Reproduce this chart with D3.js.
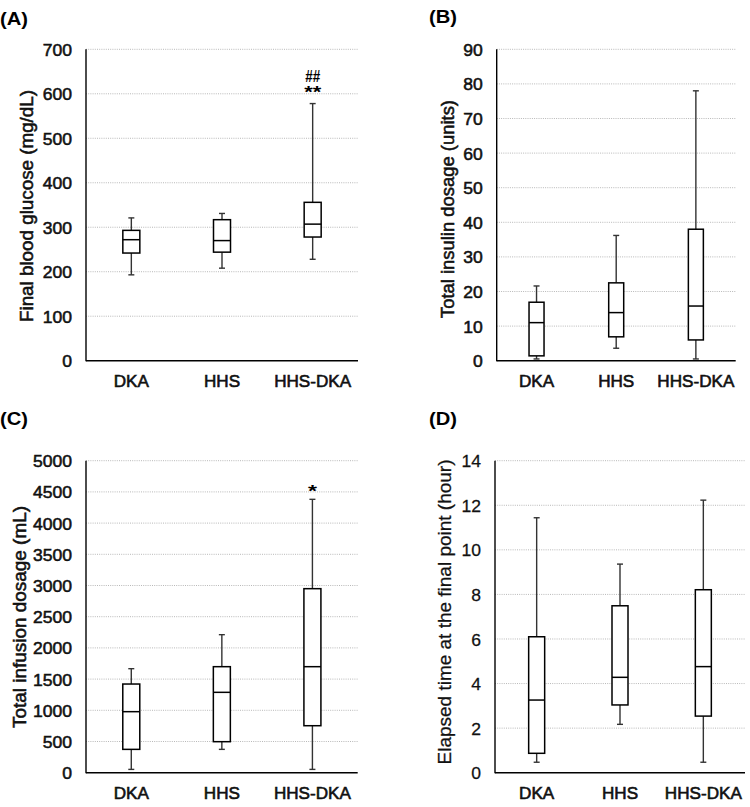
<!DOCTYPE html>
<html><head><meta charset="utf-8">
<script src="https://cdn.jsdelivr.net/npm/d3@7"></script>
<style>
body{margin:0;background:#fff;}
text{font-family:"Liberation Sans",Arial,sans-serif;}
</style></head>
<body>
<svg id="c" width="750" height="807"></svg>
<script>
const categories = ["DKA","HHS","HHS-DKA"];
// [low whisker, Q1, median, Q3, high whisker]
const glucose  = [[193,242,272,293,321],[208,244,270,317,331],[228,278,307,356,578]];
const insulin  = [[0.5,1.4,11.0,16.9,21.6],[3.6,6.9,13.9,22.5,36.2],[0.5,6.0,15.8,38.0,78.0]];
const infusion = [[53,374,978,1421,1667],[374,497,1288,1699,2212],[53,753,1699,2949,4381]];
const elapsed  = [[0.47,0.87,3.26,6.10,11.44],[2.17,3.04,4.28,7.49,9.36],[0.47,2.54,4.76,8.21,12.23]];
const ticksA = [0,100,200,300,400,500,600,700];
const ticksB = [0,10,20,30,40,50,60,70,80,90];
const ticksC = [0,500,1000,1500,2000,2500,3000,3500,4000,4500,5000];
const ticksD = [0,2,4,6,8,10,12,14];

const svg = d3.select("#c");
const SX = 1.02;

function stretch(sel){
  sel.each(function(){
    const t = d3.select(this);
    const x = +t.attr("x") || 0;
    t.attr("transform", `translate(${x},0) scale(${SX},1) translate(${-x},0)`);
  });
}

function panel(o){
  const g = svg.append("g");
  const x = d3.scaleBand().domain(categories).range([o.x0,o.x1]);
  const y = d3.scaleLinear().domain([0,o.max]).range([o.y1,o.y0]);
  // gridlines
  g.selectAll("line.grid").data(o.ticks.filter(t=>t>0)).enter().append("line")
    .attr("x1",o.x0).attr("x2",o.x1).attr("y1",d=>y(d)).attr("y2",d=>y(d))
    .attr("stroke","#b8b8b8").attr("stroke-width",1).attr("stroke-dasharray","1,1.2");
  // y axis
  const ya = g.append("g").attr("transform",`translate(${o.x0},0)`)
    .call(d3.axisLeft(y).tickValues(o.ticks).tickSize(0).tickPadding(14).tickFormat(d3.format("d")));
  ya.select(".domain").remove();
  ya.selectAll("text").attr("font-size",17.2).attr("fill","#111").attr("font-family","Liberation Sans, Arial, sans-serif")
    .attr("dy","0.35em").attr("stroke","#111").attr("stroke-width",o.thin?0.25:0.55).call(stretch);
  // x axis
  const xa = g.append("g").attr("transform",`translate(0,${o.y1})`)
    .call(d3.axisBottom(x).tickSize(0).tickPadding(o.xpad));
  xa.select(".domain").remove();
  xa.selectAll("text").attr("font-size",16.8).attr("fill","#111").attr("font-family","Liberation Sans, Arial, sans-serif")
    .attr("stroke","#111").attr("stroke-width",0.6).call(stretch);
  // axis lines
  g.append("line").attr("x1",o.x0).attr("x2",o.x0).attr("y1",o.y0).attr("y2",o.y1+0.5).attr("stroke","#000").attr("stroke-width",1.4);
  g.append("line").attr("x1",o.x0).attr("x2",o.x1).attr("y1",o.y1).attr("y2",o.y1).attr("stroke","#000").attr("stroke-width",1.4);
  // boxes
  const bw = o.bw;
  const b = g.selectAll("g.box").data(o.data).enter().append("g")
    .attr("transform",(d,i)=>`translate(${x(categories[i])+x.bandwidth()/2},0)`);
  b.append("line").attr("y1",d=>y(d[0])).attr("y2",d=>y(d[1])).attr("stroke","#333").attr("stroke-width",1.4);
  b.append("line").attr("y1",d=>y(d[3])).attr("y2",d=>y(d[4])).attr("stroke","#333").attr("stroke-width",1.4);
  b.append("line").attr("x1",-3).attr("x2",3).attr("y1",d=>y(d[0])).attr("y2",d=>y(d[0])).attr("stroke","#333").attr("stroke-width",1.4);
  b.append("line").attr("x1",-3).attr("x2",3).attr("y1",d=>y(d[4])).attr("y2",d=>y(d[4])).attr("stroke","#333").attr("stroke-width",1.4);
  b.append("rect").attr("x",-bw/2).attr("width",bw).attr("y",d=>y(d[3])).attr("height",d=>y(d[1])-y(d[3]))
    .attr("fill","#fff").attr("stroke","#000").attr("stroke-width",1.5);
  b.append("line").attr("x1",-bw/2).attr("x2",bw/2).attr("y1",d=>y(d[2])).attr("y2",d=>y(d[2])).attr("stroke","#000").attr("stroke-width",1.5);
  // y label
  g.append("text").attr("transform",`translate(${o.lx},${o.ly}) rotate(-90)`)
    .attr("text-anchor","middle").attr("dominant-baseline","central")
    .attr("font-size",o.lfs).attr("fill","#111").attr("stroke","#111").attr("stroke-width",o.thin?0.25:0.55)
    .attr("textLength",o.llen).attr("lengthAdjust","spacingAndGlyphs")
    .text(o.label);
  // panel letter
  g.append("text").attr("x",o.px).attr("y",o.py).attr("dominant-baseline","central")
    .attr("font-size",18).attr("font-weight","bold").attr("fill","#000")
    .attr("textLength",28).attr("lengthAdjust","spacingAndGlyphs").text(o.letter);
  // annotations
  (o.ann||[]).forEach(a=>{
    g.append("text").attr("x",x(categories[a.i])+x.bandwidth()/2).attr("y",a.y).attr("text-anchor","middle")
      .attr("dominant-baseline","central").attr("font-size",a.fs).attr("font-weight","bold")
      .attr("textLength",a.w).attr("lengthAdjust","spacingAndGlyphs").text(a.t);
  });
  return {x,y};
}

panel({x0:86,x1:358,y0:49.3,y1:360.7,max:700,ticks:ticksA,data:glucose,bw:17,xpad:14,
  label:"Final blood glucose (mg/dL)",llen:232,lx:27,ly:206,lfs:17.5,letter:"(A)",px:0,py:19,
  ann:[{i:2,t:"##",y:76.5,fs:16,w:15},{i:2,t:"**",y:92,fs:16,w:17}]});
panel({x0:496.7,x1:735.7,y0:49.3,y1:360.7,max:90,ticks:ticksB,data:insulin,bw:15,xpad:14,
  label:"Total insulin dosage (units)",llen:218,lx:448,ly:209,lfs:17.5,letter:"(B)",px:429,py:17});
panel({x0:86,x1:357.7,y0:460.7,y1:772.7,max:5000,ticks:ticksC,data:infusion,bw:17,xpad:14,
  label:"Total infusion dosage (mL)",llen:222,lx:20,ly:617,lfs:17.5,letter:"(C)",px:0,py:419,
  ann:[{i:2,t:"*",y:491,fs:17,w:9}]});
panel({x0:495,x1:745,y0:460.7,y1:772.7,max:14,ticks:ticksD,data:elapsed,bw:16,xpad:14,thin:true,
  label:"Elapsed time at the final point (hour)",llen:305,lx:445,ly:612,lfs:17.5,letter:"(D)",px:429,py:419});
</script>
</body></html>
